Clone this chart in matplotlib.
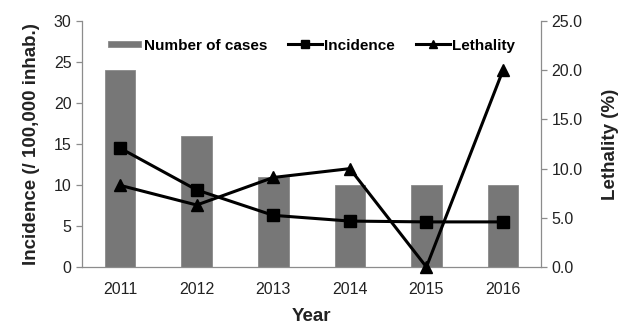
import matplotlib
matplotlib.use('Agg')
import matplotlib.pyplot as plt
import numpy as np

# --- dados ---
anos = ['2011', '2012', '2013', '2014', '2015', '2016']
casos = [24, 16, 11, 10, 10, 10]            # Number of cases (eixo esquerdo)
incidencia = [14.5, 9.4, 6.3, 5.6, 5.5, 5.5]  # Incidence (/100,000 inhab.)
letalidade = [8.3, 6.3, 9.1, 10.0, 0.0, 20.0] # Lethality (%)

plt.rcParams['font.family'] = ['Liberation Sans', 'DejaVu Sans']

fig = plt.figure(figsize=(6.2, 3.3), dpi=100)
ax1 = fig.add_axes([0.132, 0.191, 0.741, 0.745])
ax2 = ax1.twinx()

x = np.arange(len(anos))
borda = '#8c8c8c'
texto = '#222222'

barras = ax1.bar(x, casos, width=0.4, color='#777777', edgecolor='#8a8a8a',
                 linewidth=0.6, zorder=1)
l_inc, = ax1.plot(x, incidencia, color='black', linewidth=2.2, marker='s',
                  markersize=9, zorder=3)
l_let, = ax2.plot(x, letalidade, color='black', linewidth=2.2, marker='^',
                  markersize=9, zorder=3, clip_on=False)

ax1.set_xlim(-0.5, 5.5)
ax1.set_ylim(0, 30)
ax2.set_ylim(0, 25)
ax1.set_yticks(np.arange(0, 31, 5))
ax2.set_yticks(np.arange(0, 26, 5))
ax2.set_yticklabels([f'{v:.1f}' for v in np.arange(0, 26, 5)])
ax1.set_xticks(x)
ax1.set_xticklabels(anos)

for ax in (ax1, ax2):
    ax.spines['top'].set_visible(False)
    for s in ('left', 'right', 'bottom'):
        ax.spines[s].set_color(borda)
        ax.spines[s].set_linewidth(0.9)
    ax.tick_params(axis='y', colors=borda, labelcolor=texto, labelsize=11.5,
                   length=4, width=0.9)
ax1.spines['right'].set_visible(False)
ax2.spines['left'].set_visible(False)
ax2.spines['bottom'].set_visible(False)
ax1.tick_params(axis='x', length=0, labelsize=11.5, labelcolor=texto, pad=11)

ax1.set_ylabel('Incidence (/ 100,000 inhab.)', fontsize=13.5, fontweight='bold',
               color=texto, labelpad=10)
ax2.set_ylabel('Lethality (%)', fontsize=13.5, fontweight='bold',
               color=texto, labelpad=14)
ax1.set_xlabel('Year', fontsize=13.5, fontweight='bold', color=texto,
               labelpad=8)

leg = ax2.legend([barras, l_inc, l_let], ['Number of cases', 'Incidence', 'Lethality'],
                 loc='upper center', bbox_to_anchor=(0.5, 0.985), ncol=3,
                 frameon=False, handlelength=2.2, handletextpad=0.15,
                 columnspacing=1.4, markerscale=0.7,
                 prop={'weight': 'bold', 'size': 11})
for h in leg.legend_handles[:1]:
    h.set_height(4)
    h.set_y(2)

fig.savefig('out.png', dpi=100)
